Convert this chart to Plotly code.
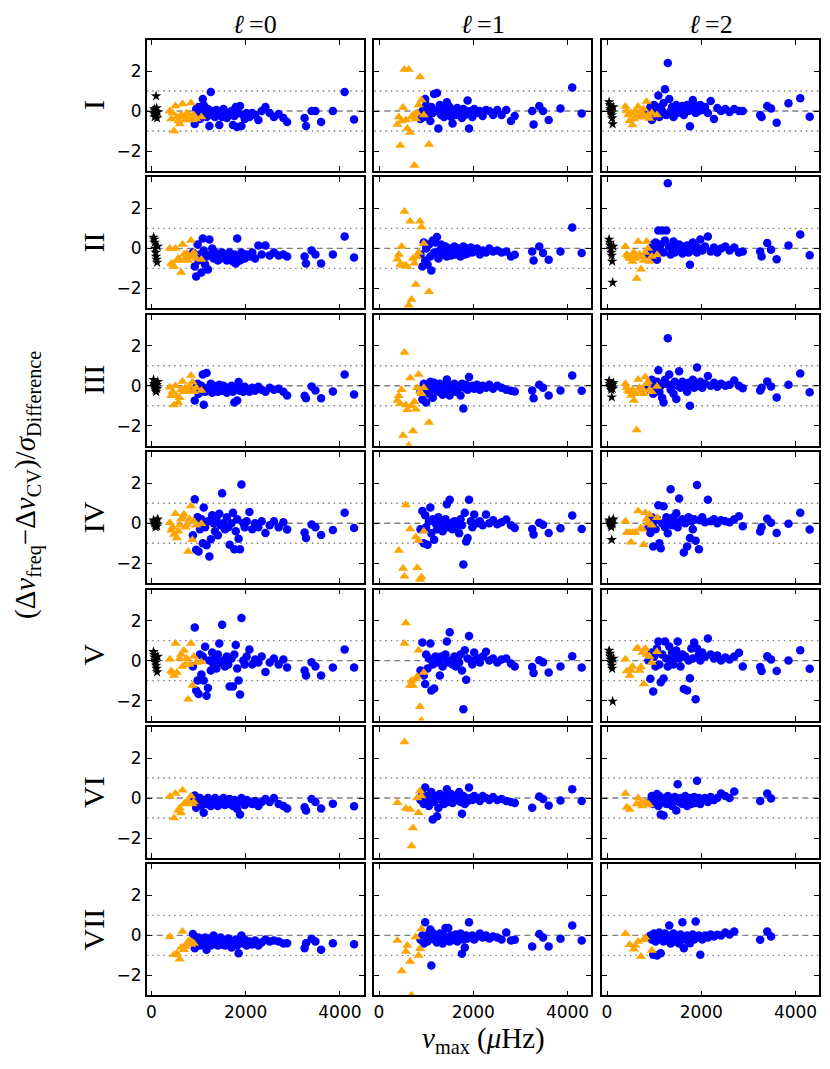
import plotly.graph_objects as go

# nu_max of the stars in each group (muHz)
nu_blue = [880, 920, 950, 980, 1000, 1030, 1060, 1090, 1110, 1140,
           1170, 1200, 1230, 1260, 1290, 1320, 1350, 1380, 1410, 1440,
           1470, 1500, 1530, 1560, 1600, 1630, 1660, 1700, 1730, 1760,
           1790, 1820, 1850, 1880, 1910, 1950, 1980, 2020, 2080, 2140,
           2200, 2270, 2340, 2420, 2510, 2600, 2700, 2800, 2880, 3250,
           3280, 3400, 3480, 3600, 3850, 4100, 4300]
nu_tri = [390, 420, 450, 480, 510, 540, 570, 600, 630, 660,
          690, 720, 750, 780, 810, 840, 870, 900, 950, 1060]
nu_star = [45, 60, 70, 80, 90, 100, 110, 120, 135]

row_names = ["I", "II", "III", "IV", "V", "VI", "VII"]
col_titles = ["<i>\u2113</i>\u2009=0", "<i>\u2113</i>\u2009=1", "<i>\u2113</i>\u2009=2"]
x_ticks = [0, 2000, 4000]
y_ticks = [-2, 0, 2]

# ---- l = 0 ----
blue_I_0 = [-0.3, -0.65, 0.1, -0.2, 0.2, -0.4, 0.0, 0.6, 0.3, -0.1,
            -0.3, 0.1, -0.75, 0.95, -0.2, 0.0, -0.3, 0.05, -0.15, -0.7,
            -0.1, -0.3, 0.1, -0.2, -0.35, -0.1, -0.2, 0.0, -0.7, -0.25,
            0.2, -0.8, -0.1, 0.25, -0.75, -0.2, -0.4, -0.1, -0.3, -0.1,
            -0.2, -0.45, 0.0, 0.2, -0.1, -0.3, -0.15, -0.35, -0.55, -0.35,
            -0.75, 0.0, 0.0, -0.55, 0.0, 0.95, -0.42]
blue_II_0 = [-0.2, -0.9, -1.4, 0.2, -0.6, -0.3, -1.2, 0.5, -0.1, -0.8,
             -0.4, -1.05, 0.45, -0.3, 0.0, -0.5, -0.2, -0.4, -0.6, -0.3,
             -0.5, -0.2, -0.45, -0.3, -0.6, -0.35, -0.2, -0.5, -0.65, -0.3,
             -0.75, 0.5, -0.4, -0.6, -0.2, -0.35, -0.5, -0.3, -0.4, -0.2,
             -0.5, 0.15, -0.3, 0.15, -0.35, -0.2, -0.35, -0.3, -0.4, -0.4,
             -0.75, -0.1, -0.3, -0.75, -0.3, 0.6, -0.45]
blue_III_0 = [-0.2, -0.74, -0.1, 0.1, -0.4, -0.2, 0.0, 0.56, -0.95, -0.3,
              0.64, -0.1, -0.2, 0.1, -0.35, 0.0, -0.2, -0.1, -0.3, 0.05,
              -0.15, -0.25, 0.0, -0.2, -0.35, -0.1, -0.2, 0.0, -0.3, -0.83,
              -0.15, -0.74, 0.19, -0.25, -0.1, -0.3, -0.05, -0.2, -0.3, -0.1,
              -0.25, -0.05, -0.2, -0.3, -0.1, -0.2, -0.15, -0.3, -0.49, -0.5,
              -0.62, -0.03, -0.24, -0.62, -0.29, 0.56, -0.44]
blue_IV_0 = [-0.6, 1.2, -1.33, 0.3, -1.42, -0.3, 0.2, -1.0, 0.78, -0.2,
             -1.1, 0.1, -1.67, -0.8, 0.4, 0.0, -0.4, 0.2, -0.6, 0.47,
             -0.1, 1.5, 0.0, -0.3, 0.3, -0.2, -1.08, 0.0, 0.52, -1.3,
             -0.4, 0.2, -0.78, -1.3, 1.94, 0.0, -0.2, 0.1, 0.56, -0.3,
             0.0, -0.2, 0.1, -0.49, -0.1, 0.1, -0.2, 0.05, -0.32, -0.46,
             -0.74, -0.07, -0.2, -0.59, -0.34, 0.52, -0.24]
blue_V_0 = [-0.3, 1.66, -1.5, -1.0, -1.67, 0.3, -0.7, 0.2, -1.0, 0.69,
            -1.76, -1.37, 0.0, -0.5, 0.4, -0.2, 0.1, -0.4, 0.3, 0.86,
            -0.1, 1.79, 0.0, -0.3, 0.2, -0.2, -1.3, 0.1, -1.3, 0.3,
            0.78, -0.4, -1.0, -1.7, 2.13, 0.0, -0.2, 0.2, 0.56, -0.2,
            0.05, -0.1, 0.2, -0.57, -0.1, 0.1, -0.2, 0.05, -0.35, -0.49,
            -0.74, -0.08, -0.29, -0.74, -0.35, 0.56, -0.35]
blue_VI_0 = [-0.2, 0.13, -0.49, -0.1, -0.3, 0.0, -0.4, -0.2, -0.74, -0.1,
             -0.3, 0.0, -0.2, -0.4, -0.1, -0.3, 0.0, -0.25, -0.4, -0.1,
             -0.3, -0.2, 0.0, -0.35, -0.15, -0.3, -0.05, -0.25, -0.4, -0.1,
             -0.3, -0.55, -0.2, -0.83, 0.0, -0.2, -0.35, -0.1, -0.2, -0.3,
             -0.15, -0.4, -0.2, -0.05, -0.2, 0.0, -0.3, -0.4, -0.52, -0.46,
             -0.62, -0.05, -0.2, -0.52, -0.29, None, -0.41]
blue_VII_0 = [0.07, -0.64, -0.2, -0.4, -0.1, -0.5, -0.3, -0.2, -0.45, -0.1,
              -0.72, -0.3, -0.15, -0.5, -0.25, 0.0, -0.4, -0.2, -0.5, -0.3,
              -0.1, -0.45, -0.25, -0.5, -0.3, -0.15, -0.4, -0.6, -0.3, -0.45,
              -0.2, -0.5, -0.89, -0.3, 0.0, -0.4, -0.2, -0.5, -0.3, -0.45,
              -0.25, -0.5, -0.35, -0.2, -0.3, -0.25, -0.3, -0.4, -0.39, -0.64,
              -0.39, -0.17, -0.3, -0.72, -0.39, None, -0.44]

tri_I_0 = [0.0, -0.4, -0.1, -1.0, 0.25, -0.3, -0.5, -0.65, -0.2, 0.35,
           -0.3, -0.45, -0.1, -0.3, -0.2, 0.4, -0.45, -0.2, -0.4, -0.3]
tri_II_0 = [0.0, -0.75, -0.8, -0.9, 0.0, -0.6, -0.5, -0.6, -1.2, 0.2,
            -0.3, -0.5, -0.25, -0.6, -0.4, 0.4, -0.3, -0.2, -0.5, -0.55]
tri_III_0 = [-0.07, -0.5, -0.3, -0.96, 0.0, -0.5, -0.83, -0.6, -0.2, 0.22,
             -0.3, -0.1, -0.25, -0.15, 0.0, 0.52, 0.19, -0.3, -0.1, -0.24]
tri_IV_0 = [0.02, -0.35, -0.2, -0.57, 0.47, -0.74, -0.4, -0.1, 0.2, 0.3,
            0.45, -0.2, -0.07, -1.42, 0.2, 0.86, -0.83, 0.1, -0.1, -0.03]
tri_V_0 = [0.07, -0.52, -0.6, -0.74, 0.86, -0.6, None, 0.1, 0.3, -0.3,
           0.5, -0.2, 0.1, -1.93, -0.2, 0.86, -1.25, 0.2, -0.1, -0.07]
tri_VI_0 = [0.07, None, None, -1.0, 0.22, None, -0.62, -0.5, -0.75, 0.39,
            -0.3, -0.24, None, -0.15, None, 0.1, -0.3, -0.2, None, None]
tri_VII_0 = [-0.07, None, None, -0.97, None, -0.9, None, -1.19, -0.6, 0.2,
             -0.72, -0.55, -0.4, -0.3, -0.25, -0.45, -0.35, -0.4, None, None]

star_I_0 = [-0.1, 0.1, -0.3, 0.0, -0.2, 0.75, 0.15, -0.35, -0.05]
star_II_0 = [0.55, 0.45, 0.3, 0.0, -0.2, -0.4, -0.55, -0.7, 0.1]
star_III_0 = [0.3, 0.1, 0.0, -0.1, -0.2, -0.3, 0.05, -0.15, 0.2]
star_IV_0 = [0.15, 0.05, 0.0, -0.1, -0.2, 0.1, -0.05, -0.15, 0.2]
star_V_0 = [0.44, 0.3, 0.15, 0.0, -0.1, -0.25, -0.4, -0.57, 0.2]

# ---- l = 1 ----
blue_I_1 = [-0.4, 0.0, -0.3, 0.6, 0.3, -0.2, 0.1, -0.5, 0.2, -0.1,
            0.85, 0.0, 0.9, -0.87, 0.3, -0.2, 0.1, -0.3, 0.0, 0.44,
            -0.1, 0.2, -0.3, -0.62, 0.0, -0.2, 0.15, -0.1, 0.0, -0.35,
            0.1, -0.2, 0.0, 0.52, -0.87, 0.0, -0.3, 0.1, -0.1, 0.0,
            -0.25, 0.05, 0.0, -0.2, 0.05, -0.2, 0.05, -0.5, -0.25, 0.0,
            -0.67, 0.25, 0.0, -0.45, 0.13, 1.18, -0.12]
blue_II_1 = [-0.3, -0.9, 0.3, -0.6, 0.0, -0.8, 0.2, -0.4, -1.1, 0.4,
             -0.2, 0.3, 0.57, -0.5, -0.1, 0.2, -0.3, -0.1, 0.1, -0.4,
             -0.2, 0.0, -0.35, -0.1, 0.1, -0.3, -0.15, 0.0, -0.4, -0.2,
             0.1, -0.3, 0.0, -0.25, -0.1, 0.05, -0.2, -0.1, 0.0, -0.3,
             -0.1, -0.2, 0.0, -0.15, -0.1, -0.2, -0.15, -0.4, -0.32, -0.15,
             -0.6, 0.1, -0.23, -0.57, -0.15, 1.04, -0.23]
blue_III_1 = [-0.3, -0.69, 0.1, -0.2, -0.83, 0.0, -0.4, 0.2, -0.1, -0.6,
              0.15, -0.2, 0.0, -0.3, 0.1, -0.1, -0.45, 0.05, -0.2, 0.32,
              -0.1, -0.49, 0.0, -0.2, 0.1, -0.3, -0.05, -0.1, -0.49, 0.1,
              -1.13, -0.1, 0.05, -0.2, 0.44, -0.1, 0.0, -0.15, 0.05, -0.2,
              0.0, -0.1, 0.05, -0.15, 0.0, -0.1, -0.2, -0.25, -0.29, -0.24,
              -0.62, 0.05, -0.1, -0.49, -0.24, 0.51, -0.25]
blue_IV_1 = [-0.3, 0.61, -1.0, 0.4, -0.2, -1.08, 0.1, 0.78, -0.5, 0.2,
             -0.83, 0.0, -0.3, 0.3, -0.1, 0.15, -0.4, 0.0, 0.2, 0.95,
             -0.2, 1.17, 0.0, -0.3, 0.1, -0.15, 0.05, -0.5, 0.2, -0.1,
             -2.06, 0.52, -0.91, -0.74, 1.17, 0.1, -0.2, 0.44, 0.0, 0.1,
             -0.1, 0.44, 0.0, 0.15, -0.05, 0.05, 0.19, -0.1, -0.24, -0.29,
             -0.57, 0.02, -0.08, -0.49, -0.25, 0.39, -0.29]
blue_V_1 = [-0.5, 0.91, -0.74, -1.17, 0.3, -0.4, 0.1, 0.86, -1.5, -0.2,
            -1.39, 0.2, -0.1, 0.0, -0.74, 0.2, -0.3, 0.1, 0.3, 0.95,
            -0.1, 1.42, 0.0, -0.2, 0.2, -0.3, 0.1, -0.1, 0.3, -0.49,
            -2.43, 0.52, -0.96, 0.1, 1.23, 0.0, -0.2, 0.4, 0.1, -0.1,
            0.2, 0.44, 0.0, 0.1, -0.1, 0.05, 0.1, -0.15, -0.29, -0.32,
            -0.62, 0.02, -0.08, -0.59, -0.29, 0.22, -0.35]
blue_VI_1 = [-0.1, 0.2, -0.3, 0.52, -0.1, 0.1, -0.4, 0.0, 0.3, -1.08,
             -0.2, 0.1, -0.91, -0.5, 0.2, -0.1, 0.0, -0.3, 0.1, 0.44,
             -0.2, 0.0, 0.2, -0.25, 0.1, -0.1, 0.0, 0.3, -0.2, -0.79,
             0.1, -0.3, 0.0, -0.15, 0.52, 0.0, -0.1, 0.1, 0.0, -0.15,
             0.1, 0.0, -0.1, 0.05, -0.1, -0.05, -0.15, -0.2, -0.25, -0.49,
             None, 0.07, -0.05, -0.37, -0.12, 0.44, -0.15]
blue_VII_1 = [-0.2, 0.0, -0.4, 0.66, -0.1, -0.3, 0.1, 0.29, -1.51, 0.12,
              -0.2, 0.0, -0.35, -0.1, 0.1, -0.2, -0.4, 0.0, 0.37, -0.15,
              0.37, -0.3, 0.0, -0.2, -0.1, 0.05, -0.3, -0.1, 0.1, -0.92,
              -0.2, -0.6, 0.0, -0.15, 0.66, -0.1, 0.0, -0.2, -0.05, 0.1,
              -0.1, 0.0, -0.15, -0.05, -0.1, -0.2, 0.15, -0.25, -0.22, -0.55,
              None, 0.07, -0.1, -0.55, -0.17, 0.5, -0.25]

tri_I_1 = [-0.67, -0.3, -1.73, -0.5, 0.17, 2.07, -0.45, -0.87, 2.07, -1.08,
           -0.3, -0.2, -2.72, -0.4, -0.1, 0.3, 1.7, 0.55, -0.2, -1.68]
tri_II_1 = [-0.54, -0.3, -0.8, 0.1, -0.86, 1.85, -0.86, -0.9, -2.84, 1.36,
            -2.55, -0.5, -0.74, -1.8, -0.4, -0.2, 1.36, 1.07, 0.24, -2.17]
tri_III_1 = [-0.74, -0.5, -0.9, -0.2, -2.48, 1.66, -0.96, -1.2, -2.99, 0.39,
             -1.0, -2.26, -0.8, -1.17, -0.1, 0.56, -0.3, -0.4, -0.1, -1.84]
tri_IV_1 = [None, -1.37, None, None, -2.26, -2.65, 0.91, None, None, -0.29,
            None, None, None, -0.69, -2.23, -0.86, -2.82, -2.69, -0.4, None]
tri_V_1 = [None, None, None, None, None, 0.86, 1.88, None, None, -1.25,
           -1.0, -1.25, None, -0.91, -0.8, 0.52, -2.31, -3.0, -0.6, None]
tri_VI_1 = [-0.24, None, None, None, None, 2.8, -0.52, None, None, -0.57,
            -2.4, -1.5, None, None, 0.0, -0.74, 0.35, 0.1, None, None]
tri_VII_1 = [-0.25, None, None, -1.78, None, None, -0.81, -0.5, None, -1.31,
             -2.99, None, None, -0.08, None, -1.0, -0.67, 0.32, None, None]

# ---- l = 2 ----
blue_I_2 = [-0.1, 0.2, -0.45, 0.0, 0.3, -0.2, 0.1, 0.77, -0.3, 0.2,
            0.0, 0.4, 1.09, -0.2, 2.4, 0.6, 0.0, 0.2, -0.3, 0.1,
            0.3, -0.1, 0.15, 0.0, 0.25, -0.2, 0.1, 0.3, 0.0, -0.76,
            0.2, 0.55, 0.1, -0.1, 0.25, 0.0, 0.3, 0.05, 0.2, -0.1,
            0.5, -0.4, 0.15, 0.0, 0.1, -0.05, 0.1, 0.0, 0.0, -0.2,
            -0.3, 0.25, 0.13, -0.59, 0.39, 0.64, -0.29]
blue_II_2 = [-0.3, 0.0, -0.4, 0.2, -0.1, 0.3, -0.57, 0.89, 0.0, 0.2,
             0.89, -0.2, 0.4, 0.89, 3.26, 0.1, -0.3, 0.0, 0.35, -0.2,
             0.1, -0.1, 0.2, 0.0, -0.25, 0.1, -0.1, 0.15, -0.2, -0.82,
             0.05, 0.3, -0.1, 0.1, -0.2, 0.0, 0.45, -0.1, 0.1, 0.6,
             -0.15, 0.05, -0.2, 0.0, 0.1, -0.1, 0.05, -0.2, -0.15, -0.15,
             -0.4, 0.27, -0.07, -0.54, 0.15, 0.69, -0.34]
blue_III_2 = [0.0, -0.2, 0.3, -0.4, 0.1, -0.1, 0.2, 0.78, -0.3, 0.0,
              -0.6, -0.83, 0.3, 0.1, 2.38, 0.57, -0.2, 0.05, -0.4, 0.2,
              -0.66, 0.0, 0.73, -0.1, 0.2, 0.0, 0.1, -0.3, 0.15, -1.0,
              0.0, 0.3, -0.1, 0.1, 0.91, 0.0, 0.2, -0.1, 0.1, 0.49,
              0.0, 0.15, -0.05, 0.1, 0.0, 0.05, 0.27, 0.0, -0.12, -0.24,
              -0.1, 0.22, -0.03, -0.59, 0.05, 0.61, -0.32]
blue_IV_2 = [-0.2, -0.49, 0.3, -1.17, 0.1, -0.3, 0.2, 0.9, -1.0, -1.25,
             0.0, 0.85, -0.2, 0.3, -0.5, 0.1, 1.7, -0.1, 0.3, 0.0,
             0.5, -0.2, 1.23, 0.1, 0.2, -1.47, 0.0, -1.17, 0.3, -0.74,
             0.1, -0.3, 0.2, -0.88, 1.91, -1.3, 0.15, 0.3, 0.05, 1.17,
             0.1, 0.2, 0.0, 0.15, 0.1, 0.05, 0.2, 0.35, -0.15, -0.41,
             -0.2, 0.22, 0.02, -0.49, -0.03, 0.52, -0.32]
blue_V_2 = [0.0, -0.91, 0.4, -1.54, 0.2, -0.3, 0.6, 0.95, -0.2, -1.08,
            0.3, -0.9, 0.95, 0.1, -0.3, 0.7, 0.0, 0.4, -0.2, 0.2,
            0.5, 0.95, 0.1, -0.3, 0.3, -1.42, 0.2, -1.5, 0.0, -0.88,
            0.6, 0.1, 0.9, -1.93, 0.61, 0.3, 0.0, 0.4, 0.2, 1.11,
            0.3, 0.1, 0.25, 0.0, 0.15, 0.05, 0.2, 0.39, -0.3, -0.32,
            -0.52, 0.22, 0.05, -0.52, 0.0, 0.52, -0.41]
blue_VI_2 = [None, -0.2, 0.1, -0.3, 0.05, -0.1, 0.2, -0.4, 0.1, -0.83,
             -0.2, -0.88, 0.0, -0.3, 0.1, -0.2, 0.0, -0.4, -0.1, 0.05,
             -0.62, 0.69, -0.2, 0.0, -0.3, -0.1, 0.1, -0.4, -0.2, 0.0,
             -0.3, -0.1, 0.05, -0.25, 0.86, 0.0, -0.3, -0.1, 0.0, -0.2,
             0.05, -0.1, 0.0, 0.22, 0.1, 0.0, 0.32, None, None, -0.15,
             None, 0.22, -0.03, None, None, None, None]
blue_VII_2 = [None, 0.0, -0.2, -0.97, 0.1, -0.3, -1.0, -0.2, 0.15, -0.89,
              0.0, -0.3, 0.1, -0.2, 0.0, 0.5, -0.4, -0.1, 0.1, -0.3,
              0.0, -0.2, -0.4, 0.05, 0.66, -0.64, -0.2, 0.0, -0.3, -0.39,
              -0.1, 0.05, -0.2, 0.7, -0.1, 0.0, -0.97, -0.2, 0.0, -0.1,
              0.05, -0.05, 0.03, 0.0, 0.15, 0.05, 0.2, None, None, -0.22,
              None, 0.2, -0.05, None, None, None, None]

tri_I_2 = [0.22, 0.0, -0.2, -0.49, -0.1, -0.7, -0.4, 0.0, -0.3, 0.22,
           -0.1, -0.3, -0.12, 0.1, -0.3, 0.47, -0.2, -0.37, -0.1, -0.2]
tri_II_2 = [0.1, -0.3, -0.4, -0.5, -0.4, -0.65, -0.2, -0.5, -1.5, 0.35,
            -0.3, -1.04, -0.4, -0.6, -0.2, 0.35, 0.0, -0.65, -0.4, -0.32]
tri_III_2 = [0.1, -0.1, -0.24, -0.3, -0.49, -0.2, -0.74, -0.4, -2.21, 0.32,
             -0.1, -0.29, -0.15, -0.4, 0.44, 0.1, 0.19, -0.2, -0.3, -0.03]
tri_IV_2 = [0.1, -0.46, None, -0.46, -0.95, -0.46, None, -0.46, None, 0.61,
            None, -0.24, -0.3, -1.08, 0.52, 0.2, 0.0, 0.44, -0.1, 0.27]
tri_V_2 = [0.07, -0.52, None, -0.74, -0.5, -0.3, None, None, 0.6, 0.61,
           -0.5, -0.32, 0.4, -1.17, 0.61, 0.3, None, 0.2, -0.1, 0.44]
tri_VI_2 = [0.22, -0.46, None, -0.57, None, None, None, None, -0.3, 0.0,
            None, -0.24, -0.4, None, -0.2, None, -0.3, -0.35, None, None]
tri_VII_2 = [0.08, None, None, -0.47, None, None, -0.69, -0.5, None, -0.3,
             None, -1.06, None, -0.22, -0.1, None, None, None, -0.76, None]

star_I_2 = [0.45, 0.3, 0.1, 0.0, -0.1, -0.2, -0.35, -0.65, 0.2]
star_II_2 = [0.45, 0.3, 0.15, 0.0, -0.2, -0.35, -0.65, -1.71, 0.1]
star_III_2 = [0.25, 0.1, 0.0, -0.1, -0.2, -0.57, 0.05, -0.15, 0.15]
star_IV_2 = [0.15, 0.05, 0.0, -0.1, -0.2, -0.83, 0.1, -0.05, 0.2]
star_V_2 = [0.5, 0.35, 0.2, 0.05, -0.1, -0.25, -0.4, -2.04, 0.1]

blue = [[blue_I_0, blue_I_1, blue_I_2], [blue_II_0, blue_II_1, blue_II_2],
        [blue_III_0, blue_III_1, blue_III_2], [blue_IV_0, blue_IV_1, blue_IV_2],
        [blue_V_0, blue_V_1, blue_V_2], [blue_VI_0, blue_VI_1, blue_VI_2],
        [blue_VII_0, blue_VII_1, blue_VII_2]]
tri = [[tri_I_0, tri_I_1, tri_I_2], [tri_II_0, tri_II_1, tri_II_2],
       [tri_III_0, tri_III_1, tri_III_2], [tri_IV_0, tri_IV_1, tri_IV_2],
       [tri_V_0, tri_V_1, tri_V_2], [tri_VI_0, tri_VI_1, tri_VI_2],
       [tri_VII_0, tri_VII_1, tri_VII_2]]
stars = [[star_I_0, None, star_I_2], [star_II_0, None, star_II_2],
         [star_III_0, None, star_III_2], [star_IV_0, None, star_IV_2],
         [star_V_0, None, star_V_2], [None, None, None], [None, None, None]]

# page geometry in pixels; the html body adds an 8px margin, so the figure
# is 16px smaller than the window and everything is placed 8px up/left
PAD = 8
W, H = 830 - 2 * PAD, 1069 - 2 * PAD
col_left = [146.7 - PAD, 374.3 - PAD, 602.3 - PAD]
col_w = 216.8
row_top0 = 40.0 - PAD
row_step = 137.4
row_h = 131.0
y_lo, y_hi = -3.0, 3.55

fig = go.Figure()
layout = {}
shapes = []
annotations = []

axis_common = dict(showline=True, linecolor="black", linewidth=1.6,
                   mirror="allticks", ticks="inside", ticklen=5,
                   tickwidth=1.2, tickcolor="black", showgrid=False,
                   zeroline=False,
                   tickfont=dict(family="DejaVu Sans", size=17, color="black"))

for r in range(7):
    top = row_top0 + r * row_step
    for c in range(3):
        n = r * 3 + c + 1
        sfx = "" if n == 1 else str(n)
        xa, ya = "x" + sfx, "y" + sfx

        fig.add_trace(go.Scatter(
            x=nu_blue, y=blue[r][c], mode="markers", xaxis=xa, yaxis=ya,
            marker=dict(color="#0000ff", size=8.5, symbol="circle", line_width=0),
            showlegend=False, hoverinfo="skip"))
        fig.add_trace(go.Scatter(
            x=nu_tri, y=tri[r][c], mode="markers", xaxis=xa, yaxis=ya,
            marker=dict(color="#ffa500", size=9, symbol="triangle-up", line_width=0),
            showlegend=False, hoverinfo="skip"))
        if stars[r][c] is not None:
            fig.add_trace(go.Scatter(
                x=nu_star, y=stars[r][c], mode="markers", xaxis=xa, yaxis=ya,
                marker=dict(color="black", size=8, symbol="star", line_width=0),
                showlegend=False, hoverinfo="skip"))

        layout["xaxis" + sfx] = dict(
            axis_common, domain=[col_left[c] / W, (col_left[c] + col_w) / W],
            anchor=ya, range=[-100, 4500], tickvals=x_ticks,
            showticklabels=(r == 6))
        layout["yaxis" + sfx] = dict(
            axis_common, domain=[1 - (top + row_h) / H, 1 - top / H],
            anchor=xa, range=[y_lo, y_hi], tickvals=y_ticks,
            showticklabels=(c == 0))

        shapes.append(dict(type="line", xref=xa + " domain", yref=ya, x0=0, x1=1,
                           y0=0, y1=0, line=dict(color="gray", width=1.4, dash="6px,4px"),
                           layer="below"))
        for yv in (-1, 1):
            shapes.append(dict(type="line", xref=xa + " domain", yref=ya, x0=0, x1=1,
                               y0=yv, y1=yv,
                               line=dict(color="gray", width=1.4, dash="1.5px,4px"),
                               layer="below"))

    # row label, centred on the panel row
    annotations.append(dict(text=row_names[r], xref="paper", yref="paper",
                            x=(93.5 - PAD) / W, y=1 - (top + row_h / 2) / H,
                            textangle=-90, showarrow=False,
                            xanchor="center", yanchor="middle",
                            font=dict(family="Liberation Serif", size=30, color="black")))

for c in range(3):
    annotations.append(dict(text=col_titles[c],
                            xref="paper", yref="paper",
                            x=(col_left[c] + col_w / 2) / W, y=1 - (24 - PAD) / H,
                            showarrow=False, xanchor="center", yanchor="middle",
                            borderpad=0,
                            font=dict(family="Liberation Serif", size=26, color="black")))

annotations.append(dict(
    text="(Δ<i>ν</i><sub>freq</sub>−Δ<i>ν</i><sub>CV</sub>)/<i>σ</i><sub>Difference</sub>",
    xref="paper", yref="paper", x=(28 - PAD) / W, y=1 - (485 - PAD) / H, textangle=-90,
    showarrow=False, xanchor="center", yanchor="middle",
    font=dict(family="Liberation Serif", size=29, color="black")))
annotations.append(dict(
    text="<i>ν</i><sub>max</sub> (<i>μ</i>Hz)",
    xref="paper", yref="paper", x=(483 - PAD) / W, y=1 - (1040 - PAD) / H,
    showarrow=False, xanchor="center", yanchor="middle",
    font=dict(family="Liberation Serif", size=29, color="black")))

fig.update_layout(width=W, height=H, margin=dict(l=0, r=0, t=0, b=0),
                  plot_bgcolor="white", paper_bgcolor="white",
                  shapes=shapes, annotations=annotations, **layout)

fig.write_html("out.html")
